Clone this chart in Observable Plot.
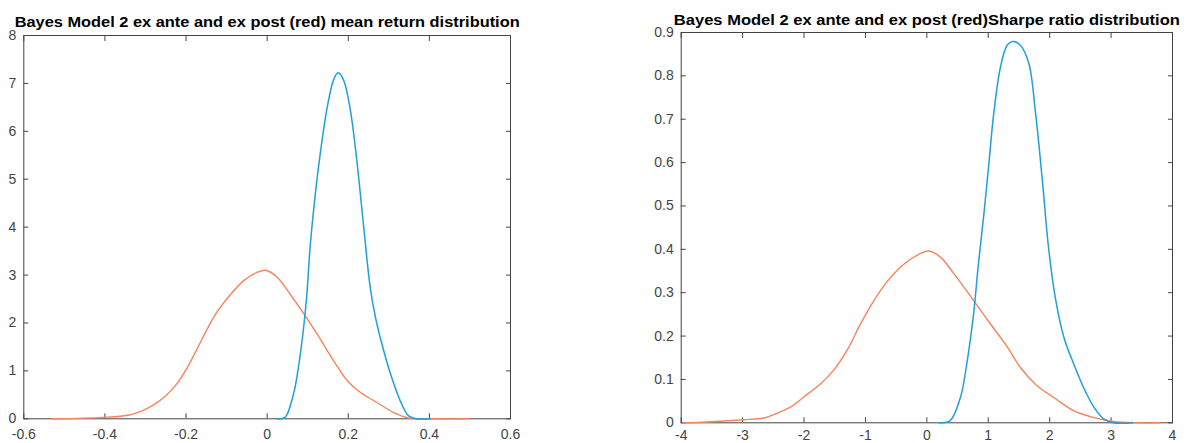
<!DOCTYPE html>
<html><head><meta charset="utf-8">
<script src="https://cdn.jsdelivr.net/npm/d3@7"></script>
<script src="https://cdn.jsdelivr.net/npm/@observablehq/plot@0.6"></script>
<style>
html,body{margin:0;padding:0;background:#fff;}
#wrap{position:relative;width:1187px;height:443px;overflow:hidden;background:#fff;}
#left,#right{position:absolute;top:0;}
#left{left:0px}
#right{left:610px}
</style></head><body>
<div id="wrap"><div id="left"></div><div id="right"></div></div>
<script>
// ---- Left panel: mean return distribution ----
const meanTitle = "Bayes Model 2 ex ante and ex post (red) mean return distribution";
const meanXTicks = [-0.6, -0.4, -0.2, 0, 0.2, 0.4, 0.6];
const meanYTicks = [0, 1, 2, 3, 4, 5, 6, 7, 8];
const meanAnteX = [0.024,0.044,0.065,0.077,0.090,0.098,0.106,0.119,0.131,0.147,0.164,0.175,0.188,0.205,0.221,0.238,0.254,0.267,0.283,0.304,0.328,0.349,0.370,0.402];
const meanAnteY = [0,0.03,0.52,1.07,1.91,2.61,3.59,4.71,5.54,6.45,7.08,7.22,7.08,6.45,5.40,4.01,2.75,2.12,1.56,0.94,0.38,0.06,0.0,0];
const meanPostX = [-0.530,-0.403,-0.340,-0.310,-0.280,-0.250,-0.222,-0.197,-0.172,-0.148,-0.123,-0.090,-0.057,-0.024,-0.004,0.024,0.065,0.094,0.123,0.164,0.197,0.230,0.271,0.312,0.353,0.41,0.499];
const meanPostY = [0,0.03,0.08,0.16,0.29,0.48,0.74,1.07,1.47,1.87,2.24,2.60,2.89,3.06,3.10,2.96,2.50,2.15,1.77,1.21,0.80,0.55,0.34,0.13,0.01,0,0];

// ---- Right panel: Sharpe ratio distribution ----
const sharpeTitle = "Bayes Model 2 ex ante and ex post (red)Sharpe ratio distribution";
const sharpeXTicks = [-4, -3, -2, -1, 0, 1, 2, 3, 4];
const sharpeYTicks = [0, 0.1, 0.2, 0.3, 0.4, 0.5, 0.6, 0.7, 0.8, 0.9];
const sharpeAnteX = [0.2,0.38,0.55,0.65,0.76,0.84,0.93,1.01,1.09,1.20,1.31,1.40,1.52,1.66,1.77,1.88,1.98,2.09,2.23,2.39,2.55,2.72,2.88,3.04,3.35];
const sharpeAnteY = [0,0.005,0.06,0.136,0.25,0.367,0.483,0.598,0.714,0.821,0.871,0.879,0.871,0.829,0.714,0.560,0.406,0.290,0.198,0.136,0.082,0.036,0.009,0,0];
const sharpePostX = [-3.97,-3.58,-3.0,-2.65,-2.44,-2.2,-2.0,-1.73,-1.52,-1.30,-1.08,-0.87,-0.65,-0.38,-0.11,0.03,0.22,0.44,0.76,1.03,1.31,1.52,1.79,2.06,2.39,2.72,3.04,3.4,3.8];
const sharpePostY = [0,0.002,0.007,0.011,0.022,0.038,0.06,0.090,0.121,0.167,0.228,0.280,0.325,0.365,0.390,0.396,0.382,0.344,0.282,0.229,0.175,0.128,0.086,0.059,0.028,0.012,0.003,0,0];

const anteColor = "#1f9fdb";
const postColor = "#f8835d";

function toRows(xs, ys) { return xs.map((x, i) => ({x, y: ys[i]})); }

function panel(o) {
  const axisColor = "#444";
  const fmt = d => String(d);
  const plot = Plot.plot({
    width: o.width, height: 443,
    marginLeft: o.ml, marginRight: o.mr, marginTop: o.mt, marginBottom: o.mb,
    style: {fontFamily: "'Liberation Sans', Arial, Helvetica, sans-serif", background: "#fff", overflow: "visible"},
    x: {domain: [o.xTicks[0], o.xTicks[o.xTicks.length - 1]]},
    y: {domain: [o.yTicks[0], o.yTicks[o.yTicks.length - 1]]},
    marks: [
      Plot.axisX(o.xTicks, {anchor: "bottom", tickSize: -5, tickPadding: o.xPad, tickFormat: fmt, fontSize: 14, color: axisColor, label: null}),
      Plot.axisX(o.xTicks, {anchor: "top", tickSize: -5, tickFormat: () => "", color: axisColor, label: null}),
      Plot.axisY(o.yTicks, {anchor: "left", tickSize: -5, tickPadding: 12.5, tickFormat: fmt, fontSize: 14, color: axisColor, label: null}),
      Plot.axisY(o.yTicks, {anchor: "right", tickSize: -5, tickFormat: () => "", color: axisColor, label: null}),
      Plot.frame({stroke: axisColor, strokeWidth: 1}),
      Plot.line(toRows(o.postX, o.postY), {x: "x", y: "y", stroke: postColor, strokeWidth: 1.4, curve: "catmull-rom"}),
      Plot.line(toRows(o.anteX, o.anteY), {x: "x", y: "y", stroke: anteColor, strokeWidth: 1.5, curve: "catmull-rom"}),
      Plot.text([o.title], {frameAnchor: "top", dy: o.titleDy, lineAnchor: "bottom", text: d => d, fontSize: 15, fontWeight: "bold", fill: "#000"})
    ]
  });
  plot.querySelectorAll("text").forEach(t => {
    if (t.textContent === o.title) {
      t.setAttribute("textLength", o.titleLen);
      t.setAttribute("lengthAdjust", "spacingAndGlyphs");
    }
  });
  return plot;
}

document.getElementById("left").appendChild(panel({
  title: meanTitle, xTicks: meanXTicks, yTicks: meanYTicks,
  anteX: meanAnteX, anteY: meanAnteY, postX: meanPostX, postY: meanPostY,
  width: 530, ml: 23.3, mr: 20, mt: 35, mb: 24.7, titleDy: -8.3, titleLen: 505, xPad: 15
}));
document.getElementById("right").appendChild(panel({
  title: sharpeTitle, xTicks: sharpeXTicks, yTicks: sharpeYTicks,
  anteX: sharpeAnteX, anteY: sharpeAnteY, postX: sharpePostX, postY: sharpePostY,
  width: 577, ml: 70.7, mr: 15, mt: 32, mb: 20.7, titleDy: -7.5, titleLen: 506, xPad: 12
}));
</script>
</body></html>
